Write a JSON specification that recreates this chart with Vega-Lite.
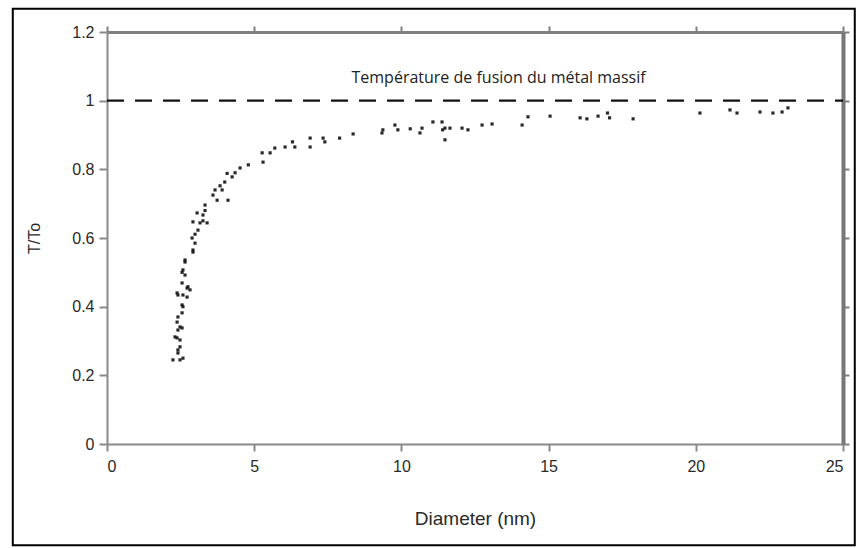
{
  "$schema": "https://vega.github.io/schema/vega-lite/v6.json",
  "width": 736,
  "height": 412,
  "autosize": {"type": "none"},
  "padding": {"left": 107, "top": 32, "right": 15, "bottom": 104},
  "background": "white",
  "config": {
    "view": {"stroke": null},
    "axis": {
      "grid": false,
      "domainColor": "#8a8a8a",
      "tickColor": "#8a8a8a",
      "labelFont": "Liberation Sans",
      "titleFont": "Liberation Sans",
      "labelColor": "#2a2a2a",
      "titleColor": "#2a2a2a",
      "titleFontWeight": "normal"
    }
  },
  "datasets": {
    "pts": [
      {"d": 2.24, "t": 0.245}, {"d": 2.48, "t": 0.245}, {"d": 2.58, "t": 0.25}, {"d": 2.41, "t": 0.265},
      {"d": 2.41, "t": 0.274}, {"d": 2.48, "t": 0.283}, {"d": 2.48, "t": 0.303}, {"d": 2.38, "t": 0.309},
      {"d": 2.31, "t": 0.312}, {"d": 2.41, "t": 0.332}, {"d": 2.55, "t": 0.338}, {"d": 2.48, "t": 0.341},
      {"d": 2.38, "t": 0.355}, {"d": 2.41, "t": 0.37}, {"d": 2.55, "t": 0.382}, {"d": 2.58, "t": 0.40},
      {"d": 2.55, "t": 0.405}, {"d": 2.72, "t": 0.428}, {"d": 2.41, "t": 0.434}, {"d": 2.58, "t": 0.434},
      {"d": 2.38, "t": 0.44}, {"d": 2.82, "t": 0.449}, {"d": 2.72, "t": 0.454}, {"d": 2.75, "t": 0.458},
      {"d": 2.55, "t": 0.469}, {"d": 2.65, "t": 0.492}, {"d": 2.55, "t": 0.50}, {"d": 2.58, "t": 0.507},
      {"d": 2.65, "t": 0.53}, {"d": 2.65, "t": 0.536}, {"d": 2.92, "t": 0.559}, {"d": 2.92, "t": 0.565},
      {"d": 2.99, "t": 0.585}, {"d": 2.89, "t": 0.60}, {"d": 2.99, "t": 0.611}, {"d": 3.09, "t": 0.623},
      {"d": 2.92, "t": 0.647}, {"d": 3.16, "t": 0.644}, {"d": 3.40, "t": 0.644}, {"d": 3.26, "t": 0.65},
      {"d": 3.06, "t": 0.673}, {"d": 3.26, "t": 0.667}, {"d": 3.33, "t": 0.68}, {"d": 3.33, "t": 0.696},
      {"d": 3.60, "t": 0.725}, {"d": 3.74, "t": 0.71}, {"d": 4.11, "t": 0.71}, {"d": 3.67, "t": 0.74},
      {"d": 3.91, "t": 0.74}, {"d": 3.84, "t": 0.752}, {"d": 4.0, "t": 0.763}, {"d": 4.08, "t": 0.788},
      {"d": 4.25, "t": 0.778}, {"d": 4.35, "t": 0.79}, {"d": 4.52, "t": 0.804}, {"d": 4.8, "t": 0.813},
      {"d": 5.3, "t": 0.821}, {"d": 5.27, "t": 0.848}, {"d": 5.54, "t": 0.848}, {"d": 5.7, "t": 0.862},
      {"d": 6.05, "t": 0.865}, {"d": 6.3, "t": 0.88}, {"d": 6.38, "t": 0.865}, {"d": 6.9, "t": 0.891},
      {"d": 6.9, "t": 0.865}, {"d": 7.34, "t": 0.891}, {"d": 7.4, "t": 0.88}, {"d": 7.9, "t": 0.891},
      {"d": 8.36, "t": 0.903}, {"d": 9.34, "t": 0.906}, {"d": 9.37, "t": 0.915}, {"d": 9.78, "t": 0.929},
      {"d": 9.88, "t": 0.915}, {"d": 10.3, "t": 0.918}, {"d": 10.7, "t": 0.92}, {"d": 10.63, "t": 0.906},
      {"d": 11.07, "t": 0.938}, {"d": 11.38, "t": 0.938}, {"d": 11.4, "t": 0.915}, {"d": 11.48, "t": 0.886},
      {"d": 11.48, "t": 0.92}, {"d": 11.65, "t": 0.92}, {"d": 12.06, "t": 0.92}, {"d": 12.26, "t": 0.915},
      {"d": 12.74, "t": 0.929}, {"d": 13.08, "t": 0.932}, {"d": 14.1, "t": 0.929}, {"d": 14.3, "t": 0.953},
      {"d": 15.05, "t": 0.955}, {"d": 16.07, "t": 0.95}, {"d": 16.3, "t": 0.947}, {"d": 16.68, "t": 0.955},
      {"d": 17.0, "t": 0.964}, {"d": 17.07, "t": 0.95}, {"d": 17.87, "t": 0.947}, {"d": 20.14, "t": 0.964},
      {"d": 21.16, "t": 0.973}, {"d": 21.4, "t": 0.964}, {"d": 22.18, "t": 0.967}, {"d": 22.62, "t": 0.964},
      {"d": 22.93, "t": 0.967}, {"d": 23.13, "t": 0.979}
    ],
    "ref": [{"d0": 0, "d1": 25, "t": 1, "label": "Température de fusion du métal massif", "dl": 13.3, "tl": 1.052}]
  },
  "layer": [
    {
      "data": {"values": [{}]},
      "mark": {"type": "rect", "fill": null, "stroke": "#000000", "strokeWidth": 2, "clip": false},
      "encoding": {
        "x": {"datum": -3.2, "type": "quantitative", "axis": null},
        "x2": {"datum": 25.4},
        "y": {"datum": -0.295, "type": "quantitative", "axis": null},
        "y2": {"datum": 1.268}
      }
    },
    {
      "data": {"name": "pts"},
      "mark": {"type": "point", "shape": "square", "filled": true, "size": 10, "color": "#111111", "opacity": 0.9},
      "encoding": {
        "x": {
          "field": "d", "type": "quantitative",
          "scale": {"domain": [0, 25], "nice": false, "zero": false},
          "axis": {
            "title": "Diameter (nm)", "values": [0, 5, 10, 15, 20, 25],
            "domainWidth": 2, "tickWidth": 2, "tickSize": 7,
            "labelFontSize": 16, "labelPadding": 7,
            "titleFontSize": 19, "titlePadding": 35
          }
        },
        "y": {
          "field": "t", "type": "quantitative",
          "scale": {"domain": [0, 1.2], "nice": false, "zero": false},
          "axis": {
            "title": "T/To", "values": [0, 0.2, 0.4, 0.6, 0.8, 1, 1.2], "format": ".1~f",
            "domainWidth": 2, "tickWidth": 2, "tickSize": 8,
            "labelFontSize": 16, "labelPadding": 5,
            "titleFontSize": 16, "titlePadding": 29
          }
        }
      }
    },
    {
      "data": {"name": "ref"},
      "mark": {"type": "rule", "strokeDash": [17, 11], "strokeWidth": 2.2, "color": "#111111"},
      "encoding": {
        "x": {"field": "d0", "type": "quantitative", "axis": null},
        "x2": {"field": "d1"},
        "y": {"field": "t", "type": "quantitative", "axis": null}
      }
    },
    {
      "data": {"name": "ref"},
      "mark": {"type": "text", "font": "Open Sans", "fontSize": 16, "color": "#222222", "align": "center", "baseline": "alphabetic"},
      "encoding": {
        "x": {"field": "dl", "type": "quantitative", "axis": null},
        "y": {"field": "tl", "type": "quantitative", "axis": null},
        "text": {"field": "label"}
      }
    },
    {
      "data": {"values": [{}]},
      "mark": {"type": "point", "opacity": 0},
      "encoding": {
        "x": {"datum": 0, "type": "quantitative",
          "axis": {"orient": "top", "title": null, "labels": false, "values": [0, 5, 10, 15, 20, 25],
            "domainWidth": 3, "domainColor": "#808080", "tickWidth": 2, "tickSize": 6, "tickColor": "#808080"}},
        "y": {"datum": 0, "type": "quantitative",
          "axis": {"orient": "right", "title": null, "labels": false, "values": [0, 0.2, 0.4, 0.6, 0.8, 1, 1.2],
            "domainWidth": 4, "domainColor": "#777777", "tickWidth": 2, "tickSize": 6, "tickColor": "#808080"}}
      }
    }
  ],
  "resolve": {"axis": {"x": "independent", "y": "independent"}}
}
